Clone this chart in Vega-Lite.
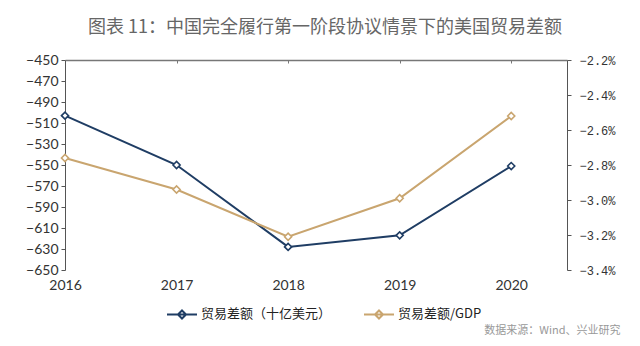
{
  "$schema": "https://vega.github.io/schema/vega-lite/v6.json",
  "width": 502,
  "height": 210,
  "autosize": "none",
  "padding": {"left": 65, "top": 60, "right": 73, "bottom": 76},
  "background": "white",
  "title": {
    "text": "图表 11：中国完全履行第一阶段协议情景下的美国贸易差额",
    "font": "Noto Sans CJK SC",
    "fontSize": 18,
    "fontWeight": "normal",
    "color": "#666666",
    "anchor": "middle",
    "offset": 16,
    "dx": 9
  },
  "config": {"view": {"stroke": null}, "axis": {"grid": false}},
  "data": {
    "values": [
      {"year": 2016, "series": "贸易差额（十亿美元）", "value": -503},
      {"year": 2017, "series": "贸易差额（十亿美元）", "value": -550},
      {"year": 2018, "series": "贸易差额（十亿美元）", "value": -628},
      {"year": 2019, "series": "贸易差额（十亿美元）", "value": -617},
      {"year": 2020, "series": "贸易差额（十亿美元）", "value": -551},
      {"year": 2016, "series": "贸易差额/GDP", "value": -0.0276},
      {"year": 2017, "series": "贸易差额/GDP", "value": -0.0294},
      {"year": 2018, "series": "贸易差额/GDP", "value": -0.0321},
      {"year": 2019, "series": "贸易差额/GDP", "value": -0.0299},
      {"year": 2020, "series": "贸易差额/GDP", "value": -0.0252}
    ]
  },
  "layer": [
    {
      "transform": [{"filter": "datum.series === '贸易差额（十亿美元）'"}],
      "encoding": {
        "x": {
          "field": "year",
          "type": "quantitative",
          "scale": {"domain": [2016, 2020.5], "nice": false, "zero": false},
          "axis": {
            "orient": "bottom",
            "values": [2016, 2017, 2018, 2019, 2020],
            "format": "d",
            "domain": false,
            "ticks": false,
            "labelPadding": 8,
            "labelFont": "Lato",
            "labelFontSize": 14,
            "labelColor": "#333333",
            "labelFlush": false,
            "title": "数据来源：Wind、兴业研究",
            "titleFont": "Noto Sans CJK SC",
            "titleFontSize": 11,
            "titleFontWeight": "normal",
            "titleColor": "#999999",
            "titleAlign": "right",
            "titleBaseline": "middle",
            "titleX": 555,
            "titleY": 60
          }
        },
        "y": {
          "field": "value",
          "type": "quantitative",
          "scale": {"domain": [-650, -450], "nice": false, "zero": false},
          "axis": {
            "orient": "left",
            "values": [-650, -630, -610, -590, -570, -550, -530, -510, -490, -470, -450],
            "title": null,
            "domainColor": "#555555",
            "tickColor": "#555555",
            "tickSize": 4,
            "labelPadding": 3,
            "labelFont": "Lato",
            "labelFontSize": 14,
            "labelColor": "#333333",
            "labelFlush": false
          }
        },
        "color": {
          "field": "series",
          "type": "nominal",
          "scale": {
            "domain": ["贸易差额（十亿美元）", "贸易差额/GDP"],
            "range": ["#1f3d64", "#c9a56f"]
          },
          "legend": {
            "title": null,
            "orient": "none",
            "direction": "horizontal",
            "legendX": 101,
            "legendY": 238,
            "padding": 0,
            "symbolType": "M-1,0H1M0,-0.27L0.27,0L0,0.27L-0.27,0Z",
            "symbolSize": 900,
            "symbolStrokeWidth": 2,
            "symbolFillColor": "white",
            "labelFont": "Noto Sans CJK SC",
            "labelFontSize": 13,
            "labelColor": "#222222",
            "labelOffset": 3,
            "columnPadding": 28,
            "labelLimit": 300
          }
        }
      },
      "layer": [
        {"mark": {"type": "line", "strokeWidth": 2}},
        {"mark": {"type": "point", "shape": "diamond", "size": 50, "filled": false, "fill": "white", "strokeWidth": 1.6, "opacity": 1}}
      ]
    },
    {
      "transform": [{"filter": "datum.series === '贸易差额/GDP'"}],
      "encoding": {
        "x": {
          "field": "year",
          "type": "quantitative",
          "scale": {"domain": [2016, 2020.5], "nice": false, "zero": false},
          "axis": {
            "orient": "top",
            "values": [2017, 2018, 2019, 2020],
            "labels": false,
            "domain": true,
            "domainColor": "#777777",
            "domainWidth": 1.5,
            "ticks": true,
            "tickColor": "#777777",
            "tickSize": -3,
            "title": null
          }
        },
        "y": {
          "field": "value",
          "type": "quantitative",
          "scale": {"domain": [-0.034, -0.022], "nice": false, "zero": false},
          "axis": {
            "orient": "right",
            "values": [-0.034, -0.032, -0.03, -0.028, -0.026, -0.024, -0.022],
            "format": ".1%",
            "title": null,
            "domainColor": "#555555",
            "tickColor": "#555555",
            "tickSize": 4,
            "labelPadding": 8,
            "labelFont": "Liberation Mono",
            "labelFontSize": 12,
            "labelColor": "#333333",
            "labelFlush": false
          }
        },
        "color": {
          "field": "series",
          "type": "nominal",
          "scale": {
            "domain": ["贸易差额（十亿美元）", "贸易差额/GDP"],
            "range": ["#1f3d64", "#c9a56f"]
          }
        }
      },
      "layer": [
        {"mark": {"type": "line", "strokeWidth": 2}},
        {"mark": {"type": "point", "shape": "diamond", "size": 50, "filled": false, "fill": "white", "strokeWidth": 1.6, "opacity": 1}}
      ]
    }
  ],
  "resolve": {
    "scale": {"y": "independent"},
    "axis": {"x": "independent", "y": "independent"}
  }
}
